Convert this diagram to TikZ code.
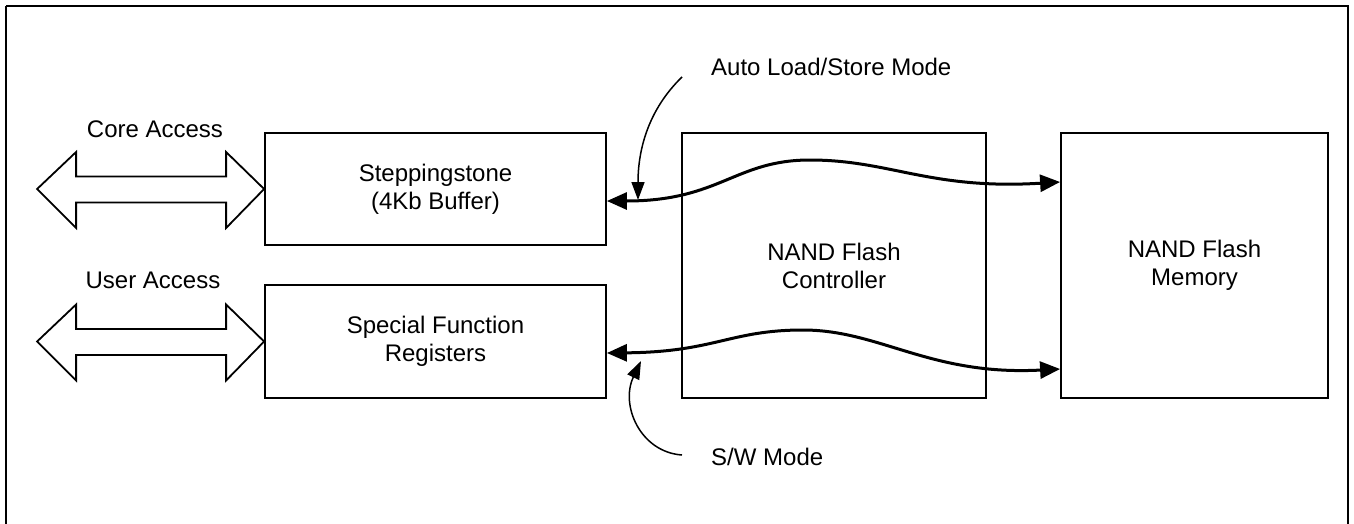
\documentclass[tikz,border=0pt]{standalone}
\usepackage{fontspec}
\setmainfont{Liberation Sans}
\usetikzlibrary{arrows.meta}
\begin{document}
\begin{tikzpicture}[x=1pt,y=-1pt,
  every node/.style={font=\fontsize{24}{28}\selectfont, inner sep=0pt},
  box/.style={draw, line width=1.8pt, align=center},
  lbl/.style={anchor=base},
  wave/.style={line width=3pt, {Triangle[length=20pt,width=17pt]}-{Triangle[length=20pt,width=17pt]}},
  pointer/.style={line width=1.5pt, -{Triangle[length=18pt,width=13pt]}},
  fat/.style={draw, line width=1.8pt, line join=miter}
]
\useasboundingbox (0,0) rectangle (1354,523);
\draw[line width=2.5pt] (6,6) -- (1348,6) -- (1348,530) (6,530) -- (6,6);

% boxes
\node[box, minimum width=341pt, minimum height=112pt] (ss) at (435.5,189) {Steppingstone\\(4Kb Buffer)};
\node[box, minimum width=341pt, minimum height=113pt] (sfr) at (435.5,341.5) {Special Function\\Registers};
\node[box, minimum width=304pt, minimum height=265pt] (ctl) at (834,265.5) {NAND Flash\\Controller};
\node[box, minimum width=267pt, minimum height=265pt] (mem) at (1194.5,265.5) {NAND Flash\\Memory};

% labels
\node[lbl] (core) at (155,137) {Core Access};
\node[lbl] (user) at (153,288) {User Access};
\node[lbl, anchor=base west] (auto) at (711,75) {Auto Load/Store Mode};
\node[lbl, anchor=base west] (sw) at (711,465) {S/W Mode};

% fat double arrows
\draw[fat] (ss.west) -- ++(-38,-37) -- ++(0,24.5) -- ++(-150,0) -- ++(0,-24.5) -- ++(-39,37)
  -- ++(39,39) -- ++(0,-25.5) -- ++(150,0) -- ++(0,25.5) -- cycle;
\draw[fat] (sfr.west) -- ++(-38,-37) -- ++(0,24.5) -- ++(-150,0) -- ++(0,-24.5) -- ++(-39,37)
  -- ++(39,39) -- ++(0,-25.5) -- ++(150,0) -- ++(0,25.5) -- cycle;

% wavy connectors
\coordinate (a1) at (ss.east |- 0,201);
\coordinate (a2) at (mem.west |- 0,182);
\coordinate (b1) at (sfr.east |- 0,353);
\coordinate (b2) at (mem.west |- 0,369);
\draw[wave] (a1) .. controls (720,201) and (735,160) .. (810,160)
  .. controls (890,160) and (930,190) .. (a2);
\draw[wave] (b1) .. controls (715,352) and (730,330) .. (803,330)
  .. controls (880,330) and (930,376) .. (b2);

% pointer arrows
\coordinate (p1) at (638,200);
\coordinate (p2) at (641,361);
\draw[pointer] (auto.west |- 0,77) ++(-29,0) .. controls (648,110) and (638,150) .. (p1);
\draw[pointer] (sw.west |- 0,455) ++(-29,0) .. controls (640,452) and (620,405) .. (p2);
\end{tikzpicture}
\end{document}
